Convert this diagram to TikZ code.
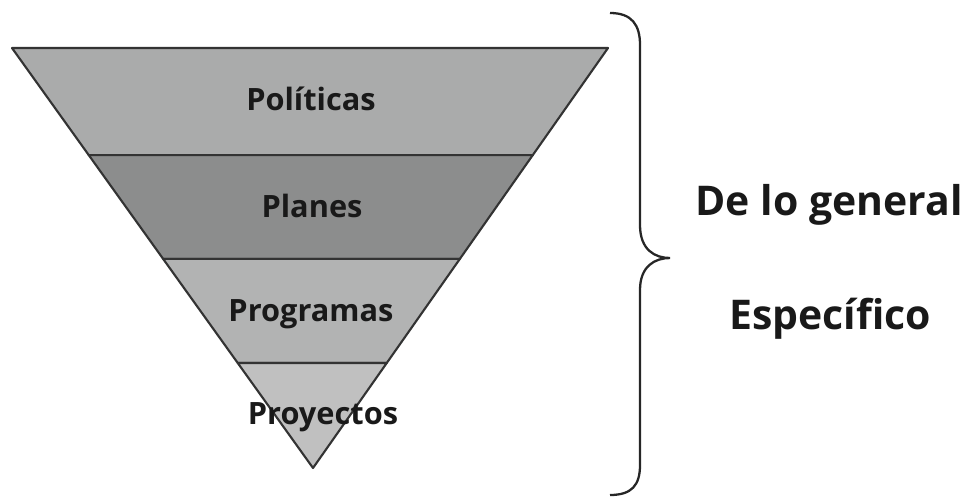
\documentclass[tikz,border=0pt]{standalone}
\usepackage{fontspec}
\setmainfont{Open Sans}
\usetikzlibrary{calc}
\definecolor{bandA}{RGB}{170,171,171}
\definecolor{bandB}{RGB}{140,141,141}
\definecolor{bandC}{RGB}{178,179,179}
\definecolor{bandD}{RGB}{192,192,192}
\tikzset{
  band/.style={draw=black!80, line width=1.2pt, line join=round},
  bandlabel/.style={font=\bfseries\fontsize{17.5}{20}\selectfont, text=black!90, inner sep=0pt, anchor=base},
  sidelabel/.style={font=\bfseries\fontsize{23.3}{27}\selectfont, text=black!90, inner sep=0pt, anchor=base}
}
\begin{document}
\begin{tikzpicture}[x=0.02cm, y=-0.02cm]
  \useasboundingbox (0,0) rectangle (967,497);
  % corners of the triangle
  \coordinate (tl) at (12,48);
  \coordinate (tr) at (608,48);
  \coordinate (apex) at (313,468);
  % band edges
  \coordinate (l1) at ($(tl)!0.255!(apex)$);
  \coordinate (r1) at ($(tr)!0.255!(apex)$);
  \coordinate (l2) at ($(tl)!0.502!(apex)$);
  \coordinate (r2) at ($(tr)!0.502!(apex)$);
  \coordinate (l3) at ($(tl)!0.75!(apex)$);
  \coordinate (r3) at ($(tr)!0.75!(apex)$);
  \filldraw [band, fill=bandA] (tl) -- (tr) -- (r1) -- (l1) -- cycle;
  \filldraw [band, fill=bandB] (l1) -- (r1) -- (r2) -- (l2) -- cycle;
  \filldraw [band, fill=bandC] (l2) -- (r2) -- (r3) -- (l3) -- cycle;
  \filldraw [band, fill=bandD] (l3) -- (r3) -- (apex) -- cycle;
  \node [bandlabel] (politicas) at (311,110) {Políticas};
  \node [bandlabel] (planes) at (312,217) {Planes};
  \node [bandlabel] (programas) at (311,321) {Programas};
  \node [bandlabel] (proyectos) at (323,424) {Proyectos};
  % brace
  \draw [black!85, line width=1.3pt]
    (610,13) .. controls (632,13) and (640,25) .. (640,45) -- (640,225)
    .. controls (640,250) and (655,258) .. (670,258)
    .. controls (655,258) and (640,266) .. (640,290) -- (640,465)
    .. controls (640,485) and (632,495) .. (610,495);
  \node [sidelabel] (general) at (829,215) {De lo general};
  \node [sidelabel] (especifico) at (830,329) {Específico};
\end{tikzpicture}
\end{document}
